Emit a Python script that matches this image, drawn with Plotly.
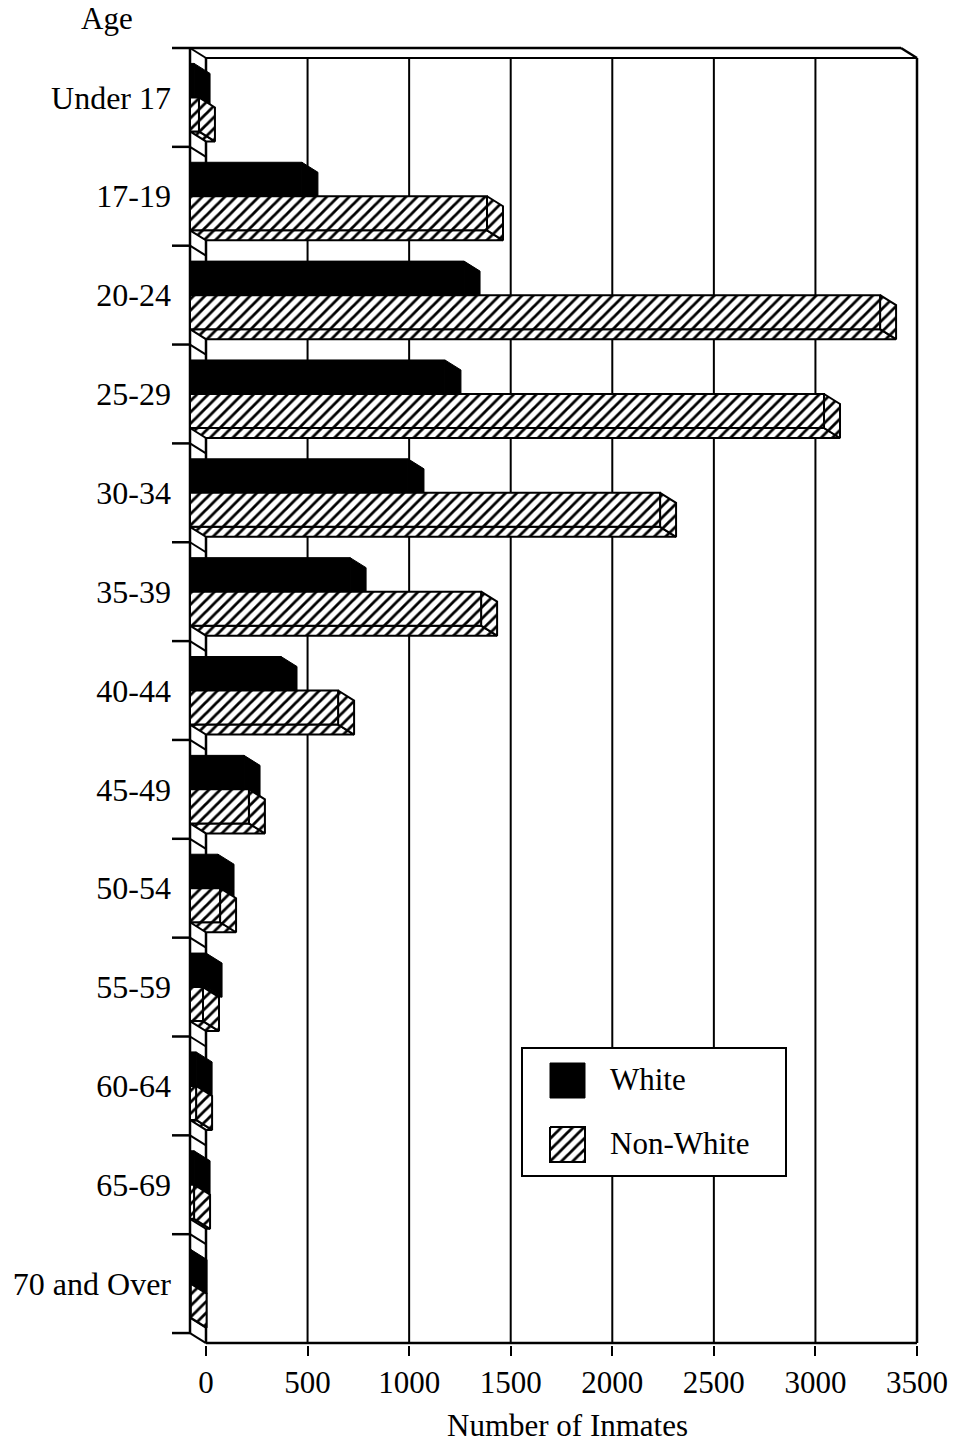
import plotly.graph_objects as go

# ---- data -------------------------------------------------------------
age_groups = ["Under 17", "17-19", "20-24", "25-29", "30-34", "35-39", "40-44",
              "45-49", "50-54", "55-59", "60-64", "65-69", "70 and Over"]
white = [20, 551, 1349, 1255, 1073, 788, 448, 266, 138, 79, 30, 20, 5]
non_white = [44, 1462, 3397, 3121, 2314, 1433, 729, 290, 148, 64, 30, 20, 3]
x_ticks = [0, 500, 1000, 1500, 2000, 2500, 3000, 3500]
series_names = ["White", "Non-White"]

# ---- page geometry ----------------------------------------------------
W, H = 954, 1444
PX_PER_UNIT = 711 / 3500          # back-wall scale
ZERO_PX = 206                     # pixel column of value 0 on the back wall
ROW_PX = 98.85                    # height of one age band
TOP_PX = 48                       # top edge of the front frame
PLOT_L, PLOT_R, PLOT_T, PLOT_B = 172, 922, 46, 1345

DX = 16 / PX_PER_UNIT             # depth offset of the 3D box, in x units
DY = 10 / ROW_PX                  # depth offset, in band units
BAR_H = 0.344                     # bar thickness, in band units
N = len(age_groups)
FONT = "Liberation Serif"


def px_x(px):
    return (px - ZERO_PX) / PX_PER_UNIT


def px_y(py):
    return -0.5 + (py - TOP_PX) / ROW_PX


def paper_x(px):
    return (px - PLOT_L) / (PLOT_R - PLOT_L)


def paper_y(py):
    return (PLOT_B - py) / (PLOT_B - PLOT_T)


HATCH = dict(shape="/", fgcolor="black", bgcolor="white", size=8, solidity=0.35)


def faces(values, above):
    """Front, right and bottom faces of a row of 3D bars, as polygon paths."""
    fx, fy, rx, ry, bx, by = [], [], [], [], [], []
    for i, v in enumerate(values):
        y0, y1 = (i - BAR_H, i) if above else (i, i + BAR_H)
        x0, x1 = -DX, -DX + v
        fx += [x0, x1, x1, x0, x0, None]
        fy += [y0, y0, y1, y1, y0, None]
        rx += [x1, v, v, x1, x1, None]
        ry += [y0, y0 + DY, y1 + DY, y1, y0, None]
        bx += [x0, x1, v, 0, x0, None]
        by += [y1, y1, y1 + DY, y1 + DY, y1, None]
    return (fx, fy), (rx, ry), (bx, by)


fig = go.Figure()

for name, vals, above in [(series_names[0], white, True), (series_names[1], non_white, False)]:
    front, right, bottom = faces(vals, above)
    for xs, ys in (bottom, right, front):
        if above:
            fig.add_trace(go.Scatter(
                x=xs, y=ys, mode="lines", fill="toself", fillcolor="black",
                line=dict(color="black", width=1), name=name, showlegend=False,
                hoverinfo="skip"))
        else:
            fig.add_trace(go.Scatter(
                x=xs, y=ys, mode="lines", fill="toself", fillcolor="white",
                fillpattern=HATCH, line=dict(color="black", width=2), name=name,
                showlegend=False, hoverinfo="skip"))

# ---- 3D frame, back-wall grid and ticks ---------------------------------
shapes = []


def seg(x0, y0, x1, y1, w=2):
    shapes.append(dict(type="line", xref="x", yref="y", x0=x0, y0=y0, x1=x1, y1=y1,
                       line=dict(color="black", width=w), layer="below"))


top_back, bot_back = -0.5 + DY, N - 0.5 + DY
for t in x_ticks:
    seg(t, top_back, t, bot_back, 2.5 if t in (0, x_ticks[-1]) else 2)
seg(0, top_back, x_ticks[-1], top_back, 2)
seg(0, bot_back, x_ticks[-1], bot_back, 2.5)
seg(-DX, -0.5, -DX, N - 0.5, 2.5)
seg(px_x(PLOT_L), -0.5, x_ticks[-1] - DX, -0.5, 2.5)
seg(x_ticks[-1] - DX, -0.5, x_ticks[-1], top_back, 2.5)
for k in range(N + 1):
    seg(-DX, k - 0.5, 0, k - 0.5 + DY, 2)
    if k > 0:
        seg(px_x(PLOT_L), k - 0.5, -DX, k - 0.5, 2.5)

# ---- legend ------------------------------------------------------------
shapes.append(dict(type="rect", xref="x", yref="y",
                   x0=px_x(522), x1=px_x(786), y0=px_y(1048), y1=px_y(1176),
                   fillcolor="white", line=dict(color="black", width=2), layer="below"))

annotations = []
for j, (name, py) in enumerate(zip(series_names, [1063, 1127])):
    sx0, sx1, sy0, sy1 = px_x(550), px_x(585), px_y(py), px_y(py + 35)
    kw = dict(fillcolor="black", line=dict(color="black", width=1)) if j == 0 else \
        dict(fillcolor="white", fillpattern=HATCH, line=dict(color="black", width=2))
    fig.add_trace(go.Scatter(x=[sx0, sx1, sx1, sx0, sx0], y=[sy0, sy0, sy1, sy1, sy0],
                             mode="lines", fill="toself", showlegend=False,
                             hoverinfo="skip", name=name, **kw))
    annotations.append(dict(text=name, x=px_x(608), y=px_y(py + 16), xref="x", yref="y",
                            xanchor="left", yanchor="middle", showarrow=False,
                            font=dict(family=FONT, size=31, color="black")))

annotations.append(dict(text="Age", x=paper_x(107), y=paper_y(18), xref="paper",
                        yref="paper", xanchor="center", yanchor="middle", showarrow=False,
                        font=dict(family=FONT, size=31, color="black")))
annotations.append(dict(text="Number of Inmates", x=paper_x(567), y=paper_y(1426),
                        xref="paper", yref="paper", xanchor="center", yanchor="middle",
                        showarrow=False, font=dict(family=FONT, size=31, color="black")))

fig.update_layout(
    template="none",
    width=W, height=H,
    margin=dict(l=PLOT_L, r=W - PLOT_R, t=PLOT_T, b=H - PLOT_B, pad=0),
    paper_bgcolor="white", plot_bgcolor="white",
    showlegend=False,
    shapes=shapes,
    annotations=annotations,
    font=dict(family=FONT, size=31, color="black"),
)
fig.update_xaxes(
    range=[px_x(PLOT_L), px_x(PLOT_R)], tickvals=x_ticks,
    ticktext=[str(t) for t in x_ticks], ticks="outside", ticklen=10, tickwidth=2,
    tickcolor="black", showgrid=False, zeroline=False, showline=False,
    automargin=False, tickfont=dict(family=FONT, size=31),
)
fig.update_yaxes(
    range=[px_y(PLOT_B), px_y(PLOT_T)], tickvals=list(range(N)), ticktext=age_groups,
    ticks="", showgrid=False, zeroline=False, showline=False, automargin=False,
    tickfont=dict(family=FONT, size=32),
)

fig.write_html("out.html")
